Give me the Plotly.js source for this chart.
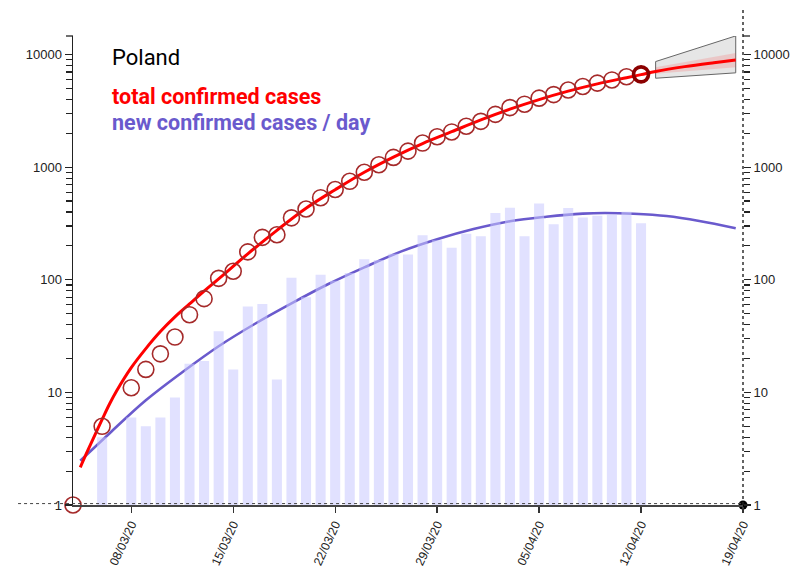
<!DOCTYPE html>
<html>
<head>
<meta charset="utf-8">
<script src="https://cdn.plot.ly/plotly-3.0.1.min.js"></script>
<style>html,body{margin:0;padding:0;background:#fff;}#chart{width:794px;height:568px;}</style>
</head>
<body>
<div id="chart"></div>
<script>
// ---- data ----
const totalDates = ['2020-03-04','2020-03-06','2020-03-08','2020-03-09','2020-03-10','2020-03-11','2020-03-12','2020-03-13','2020-03-14','2020-03-15','2020-03-16','2020-03-17','2020-03-18','2020-03-19','2020-03-20','2020-03-21','2020-03-22','2020-03-23','2020-03-24','2020-03-25','2020-03-26','2020-03-27','2020-03-28','2020-03-29','2020-03-30','2020-03-31','2020-04-01','2020-04-02','2020-04-03','2020-04-04','2020-04-05','2020-04-06','2020-04-07','2020-04-08','2020-04-09','2020-04-10','2020-04-11','2020-04-12'];
const totalCases = [1,5,11,16,22,31,49,68,103,119,177,238,251,355,425,536,634,749,901,1051,1221,1389,1638,1862,2055,2311,2554,2946,3383,3627,4102,4413,4848,5205,5575,5955,6356,6674];

const newDates = totalDates.slice(1);
const newCases = [4,6,5,6,9,18,19,35,16,58,61,13,104,70,111,98,115,152,150,170,168,249,224,193,256,243,392,437,244,475,311,435,357,370,380,401,318];

const redFitDates = ['2020-03-04 12:00','2020-03-05','2020-03-05 12:00','2020-03-06','2020-03-06 12:00','2020-03-07','2020-03-08','2020-03-09','2020-03-10','2020-03-11','2020-03-12','2020-03-13','2020-03-14','2020-03-16','2020-03-18','2020-03-20','2020-03-22','2020-03-24','2020-03-26','2020-03-28','2020-03-30','2020-04-01','2020-04-03','2020-04-05','2020-04-07','2020-04-09','2020-04-11','2020-04-12','2020-04-13','2020-04-15','2020-04-17','2020-04-18 12:00'];
const redFitVals = [2.16,3.02,4.17,5.75,7.85,10.35,16.6,24.5,34.7,46.8,61,79.4,102,170,275,432,631,902,1230,1622,2065,2630,3273,3981,4732,5495,6237,6637,7079,7816,8472,8954];

const blueFitDates = ['2020-03-04 12:00','2020-03-06 12:00','2020-03-09','2020-03-11 12:00','2020-03-14','2020-03-16 12:00','2020-03-19','2020-03-21 12:00','2020-03-24','2020-03-26 12:00','2020-03-29','2020-03-31 12:00','2020-04-03','2020-04-05 12:00','2020-04-08','2020-04-09 12:00','2020-04-11 12:00','2020-04-13 18:00','2020-04-16','2020-04-18 12:00'];
const blueFitVals = [2.47,4.32,8.51,15.1,25.7,40.7,61.7,91.2,128.8,177.8,229,282,331,363,387,392,386,368,333,287];

const bandDates = ['2020-04-13','2020-04-18 12:00'];
const bandOuterUpper = [8670,14650];
const bandOuterLower = [6166,6885];
const bandInnerUpper = [7710,10350];
const bandInnerLower = [6745,7710];

const endPointDate = ['2020-04-19'];
const endPointVal = [1];

const xTickVals = ['2020-03-08','2020-03-15','2020-03-22','2020-03-29','2020-04-05','2020-04-12','2020-04-19'];
const xTickText = ['08/03/20','15/03/20','22/03/20','29/03/20','05/04/20','12/04/20','19/04/20'];
const yTickVals = [1,10,100,1000,10000];
const yTickText = ['1','10','100','1000','10000'];
const yMinorVals = [2,3,4,5,6,7,8,9,20,30,40,50,60,70,80,90,200,300,400,500,600,700,800,900,2000,3000,4000,5000,6000,7000,8000,9000];

const titleText = 'Poland';
const legendTotal = 'total confirmed cases';
const legendNew = 'new confirmed cases / day';

// ---- build ----
const lastIdx = totalDates.length - 1;
const poly = (d, up, lo) => ({x:[d[0],d[1],d[1],d[0],d[0]], y:[up[0],up[1],lo[1],lo[0],up[0]]});
const outer = poly(bandDates, bandOuterUpper, bandOuterLower);
const inner = poly(bandDates, bandInnerUpper, bandInnerLower);

const traces = [
  {x: blueFitDates, y: blueFitVals, type:'scatter', mode:'lines', xaxis:'x', yaxis:'y',
   line:{color:'#6a5acd', width:2.6, shape:'spline'}, hoverinfo:'skip'},
  {x: newDates, y: newCases, type:'bar', xaxis:'x', yaxis:'y2',
   marker:{color:'rgba(200,200,255,0.55)', line:{width:0}}, hoverinfo:'skip'},
  {x: outer.x, y: outer.y, type:'scatter', mode:'lines', fill:'toself', xaxis:'x', yaxis:'y3',
   fillcolor:'#e6e6e6', line:{color:'#666', width:1}, hoverinfo:'skip'},
  {x: inner.x, y: inner.y, type:'scatter', mode:'lines', fill:'toself', xaxis:'x', yaxis:'y3',
   fillcolor:'rgba(255,60,60,0.18)', line:{width:0}, hoverinfo:'skip'},
  {x: redFitDates, y: redFitVals, type:'scatter', mode:'lines', xaxis:'x', yaxis:'y3',
   line:{color:'#ff0000', width:3, shape:'spline'}, hoverinfo:'skip'},
  {x: totalDates.slice(0, lastIdx), y: totalCases.slice(0, lastIdx), type:'scatter', mode:'markers', xaxis:'x', yaxis:'y3',
   cliponaxis:false,
   marker:{symbol:'circle-open', size:16, color:'#a52a2a', line:{width:1.6, color:'#a52a2a'}}, hoverinfo:'skip'},
  {x: [totalDates[lastIdx]], y: [totalCases[lastIdx]], type:'scatter', mode:'markers', xaxis:'x', yaxis:'y3',
   cliponaxis:false,
   marker:{symbol:'circle-open', size:15, color:'#8b0000', line:{width:3.6, color:'#8b0000'}}, hoverinfo:'skip'},
  {x: endPointDate, y: endPointVal, type:'scatter', mode:'markers', xaxis:'x', yaxis:'y3',
   cliponaxis:false, marker:{size:9, color:'#000'}, hoverinfo:'skip'}
];

const yr = [0, 4.165];
const tickFont = {family:'"Liberation Sans", Arial, sans-serif', size:13, color:'#222'};
const xTickFont = {family:'"Liberation Sans", Arial, sans-serif', size:12.2, color:'#222'};
const yBase = {
  type:'log', range: yr, autorange:false, tickmode:'array', tickvals: yTickVals, ticktext: yTickText,
  ticks:'outside', ticklen:7, tickwidth:1.3, tickcolor:'#222', showgrid:false, zeroline:false,
  tickfont: tickFont, fixedrange:true,
  minor:{tickmode:'array', tickvals: yMinorVals, ticks:'outside', ticklen:6, tickwidth:1.2, tickcolor:'#222', showgrid:false}
};

const layout = {
  width:794, height:568,
  margin:{l:73, r:51, t:36, b:63, pad:0},
  paper_bgcolor:'#fff', plot_bgcolor:'#fff',
  showlegend:false, bargap:0.31,
  xaxis:{type:'date', range:['2020-03-04','2020-04-19'], autorange:false, tickmode:'array',
    tickvals: xTickVals, ticktext: xTickText, tickangle:-65, ticks:'outside', ticklen:6, tickwidth:1.3,
    tickcolor:'#333', showline:true, linecolor:'#444', linewidth:1.5, showgrid:false, zeroline:false,
    tickfont: xTickFont},
  yaxis: Object.assign({}, yBase, {side:'left', showline:true, linecolor:'#222', linewidth:1.5}),
  yaxis2: Object.assign({}, yBase, {side:'right', overlaying:'y', showline:false}),
  yaxis3: Object.assign({}, yBase, {overlaying:'y', visible:false}),
  shapes:[
    {type:'line', xref:'paper', yref:'paper', x0:-0.082, x1:1, y0:0.003, y1:0.003, line:{color:'#444', width:1, dash:'dot'}},
    {type:'line', xref:'paper', yref:'paper', x0:1, x1:1, y0:0, y1:1.06, line:{color:'#222', width:1.4, dash:'dot'}},
    {type:'line', xref:'paper', yref:'paper', x0:-0.0105, x1:0, y0:1, y1:1, line:{color:'#222', width:1.3}},
    {type:'line', xref:'paper', yref:'paper', x0:1, x1:1.0105, y0:1, y1:1, line:{color:'#222', width:1.3}}
  ],
  annotations:[
    {text:titleText, xref:'paper', yref:'paper', x:0.0552, y:0.955, xanchor:'left', yanchor:'middle', showarrow:false,
     font:{family:'Roboto, "Liberation Sans", sans-serif', size:22, color:'#000'}},
    {text:'<b>'+legendTotal+'</b>', xref:'paper', yref:'paper', x:0.0552, y:0.872, xanchor:'left', yanchor:'middle', showarrow:false,
     font:{family:'Roboto, "Liberation Sans", sans-serif', size:21.5, color:'#ff0000'}},
    {text:'<b>'+legendNew+'</b>', xref:'paper', yref:'paper', x:0.0552, y:0.815, xanchor:'left', yanchor:'middle', showarrow:false,
     font:{family:'Roboto, "Liberation Sans", sans-serif', size:21.5, color:'#6a5acd'}}
  ]
};

Plotly.newPlot('chart', traces, layout, {displayModeBar:false, staticPlot:true});
</script>
</body>
</html>
